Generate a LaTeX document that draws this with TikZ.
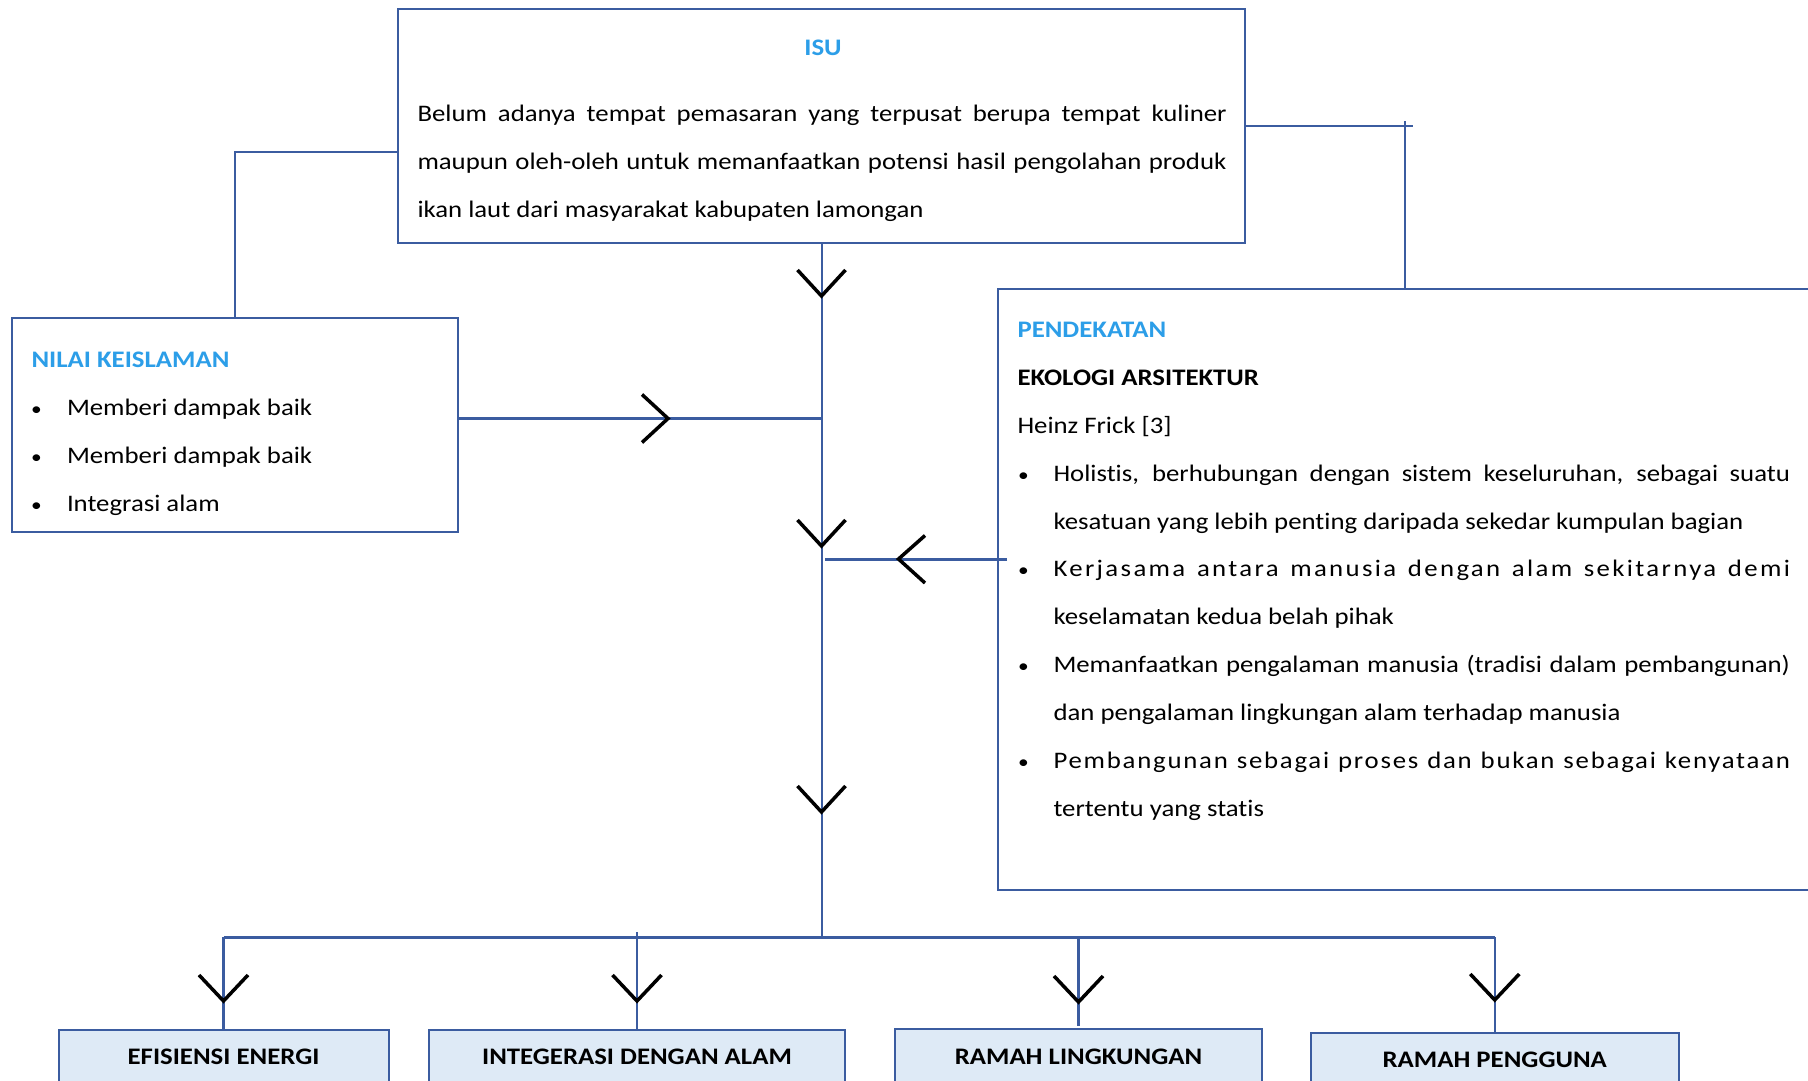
\documentclass[tikz,border=0pt]{standalone}
\usepackage{fontspec}
\setmainfont{Carlito}[FakeStretch=1.13,Ligatures=NoCommon]
\newfontfamily\spreadfont{Carlito}[FakeStretch=1.13,LetterSpace=10,Ligatures=NoCommon]
\newfontfamily\spreadfontb{Carlito}[FakeStretch=1.13,LetterSpace=7.5,Ligatures=NoCommon]
\usetikzlibrary{calc}
\definecolor{lineblue}{RGB}{59,92,160}
\definecolor{titleblue}{RGB}{44,158,232}
\definecolor{boxfill}{RGB}{222,234,246}
\newcommand{\fs}{\fontsize{23.7}{28}\selectfont}
\tikzset{
  every node/.style={inner sep=0pt, outer sep=0pt},
  boxshape/.style={draw=lineblue, line width=2pt, rectangle, anchor=north west},
  resbox/.style={boxshape, fill=boxfill, minimum height=90pt},
  txt/.style={anchor=base west, font=\fs},
  bul/.style={anchor=base west, font=\fontsize{19}{24}\selectfont},
  ttl/.style={anchor=base west, font=\fs\bfseries, text=titleblue},
  lbl/.style={anchor=base, font=\fs\bfseries},
  conn/.style={draw=lineblue, line width=2pt},
  connmid/.style={draw=lineblue, line width=2.5pt},
  connthick/.style={draw=lineblue, line width=3pt},
  chev/.style={draw=black, line width=3.5pt, line join=miter}
}
\begin{document}
\begin{tikzpicture}[x=1pt,y=-1pt]
\useasboundingbox (0,0) rectangle (1808,1081);
\clip (0,0) rectangle (1808,1081);
\fill[white] (0,0) rectangle (1808,1081);

% boxes
\node[boxshape, minimum width=847pt, minimum height=234pt] (isu) at (398,9) {};
\node[boxshape, minimum width=446.5pt, minimum height=213.5pt] (nilai) at (11.5,318) {};
\node[boxshape, minimum width=850pt, minimum height=601pt] (pend) at (998,288.5) {};
\node[resbox, minimum width=330pt] (b1) at (58.5,1030) {};
\node[resbox, minimum width=416pt] (b2) at (429,1030) {};
\node[resbox, minimum width=367pt] (b3) at (895,1029) {};
\node[resbox, minimum width=367.5pt] (b4) at (1311,1032.5) {};

% ISU text
\node[lbl, text=titleblue] (isuT) at (823,56) {ISU};
\node[txt] (isu1) at (417.5,121.5) {\makebox[809pt][s]{Belum adanya tempat pemasaran yang terpusat berupa tempat kuliner}};
\node[txt] (isu2) at (417.5,169.5) {\makebox[809pt][s]{maupun oleh-oleh untuk memanfaatkan potensi hasil pengolahan produk}};
\node[txt] (isu3) at (417.5,217.5) {ikan laut dari masyarakat kabupaten lamongan};

% NILAI text
\node[ttl] (nilT) at (31.5,367) {NILAI KEISLAMAN};
\node[bul] (nb1) at (31,415) {•};
\node[txt] (nt1) at (67,415) {Memberi dampak baik};
\node[bul] (nb2) at (31,463) {•};
\node[txt] (nt2) at (67,463) {Memberi dampak baik};
\node[bul] (nb3) at (31,511) {•};
\node[txt] (nt3) at (67,511) {Integrasi alam};

% PENDEKATAN text
\node[ttl] (penT) at (1017.5,337) {PENDEKATAN};
\node[txt, font=\fs\bfseries] (penS) at (1017.5,385) {EKOLOGI ARSITEKTUR};
\node[txt] (penA) at (1017.5,433) {Heinz Frick [3]};
\node[bul] (pb1) at (1018,481) {•};
\node[txt] (pt1a) at (1053.5,481) {\makebox[736.5pt][s]{Holistis, berhubungan dengan sistem keseluruhan, sebagai suatu}};
\node[txt] (pt1b) at (1053.5,529) {kesatuan yang lebih penting daripada sekedar kumpulan bagian};
\node[bul] (pb2) at (1018,576.5) {•};
\node[txt] (pt2a) at (1053.5,576.5) {\makebox[736.5pt][s]{\spreadfont Kerjasama antara manusia dengan alam sekitarnya demi}};
\node[txt] (pt2b) at (1053.5,624.5) {keselamatan kedua belah pihak};
\node[bul] (pb3) at (1018,672.5) {•};
\node[txt] (pt3a) at (1053.5,672.5) {\makebox[736.5pt][s]{Memanfaatkan pengalaman manusia (tradisi dalam pembangunan)}};
\node[txt] (pt3b) at (1053.5,720.5) {dan pengalaman lingkungan alam terhadap manusia};
\node[bul] (pb4) at (1018,768.5) {•};
\node[txt] (pt4a) at (1053.5,768.5) {\makebox[736.5pt][s]{\spreadfontb Pembangunan sebagai proses dan bukan sebagai kenyataan}};
\node[txt] (pt4b) at (1053.5,816.5) {tertentu yang statis};

% result labels
\node[lbl] (l1) at (b1.north |- 0,1064) {EFISIENSI ENERGI};
\node[lbl] (l2) at (b2.north |- 0,1064) {INTEGERASI DENGAN ALAM};
\node[lbl] (l3) at (b3.north |- 0,1064) {RAMAH LINGKUNGAN};
\node[lbl] (l4) at (b4.north |- 0,1067) {RAMAH PENGGUNA};

% connectors
\path (isu.north west) ++(0,143) coordinate (isuL);
\draw[conn] (isuL) -| (nilai.north);
\draw[conn] (isu.east) -- ++(167.5,0) coordinate (isuRend);
\coordinate (rTop) at (1405,121);
\draw[conn] (rTop) -- (rTop |- pend.north);

\coordinate (hub) at (821.5,937);
\draw[conn] (isu.south) -- (hub);

\coordinate (jN) at (823,418.5);
\draw[connthick] (nilai.east |- jN) -- (jN);
\coordinate (jP) at (825,559);
\draw[connthick] ($(pend.west |- jP)+(9,0)$) -- (jP);

\draw[connthick] (b1.north |- hub) -- (b4.north |- hub);
\draw[connmid] (b1.north |- hub) -- (b1.north);
\draw[connmid] ($(b2.north |- hub)+(0,-5)$) -- (b2.north);
\draw[connmid] (b3.north |- hub) -- ($(b3.north)+(0,-3)$);
\draw[connmid] (b4.north |- hub) -- (b4.north);

% chevrons
\coordinate (c1) at (821.5,296);
\coordinate (c2) at (821.5,546);
\coordinate (c3) at (821.5,812);
\foreach \c in {c1,c2,c3} {
  \draw[chev] (\c) ++(-24,-26) -- (\c) -- ++(24,-26);
}
\coordinate (d1) at (b1.north |- 0,1001);
\coordinate (d2) at (b2.north |- 0,1001);
\coordinate (d3) at (b3.north |- 0,1002);
\coordinate (d4) at (b4.north |- 0,1000);
\foreach \c in {d1,d2,d3,d4} {
  \draw[chev] (\c) ++(-24.5,-26) -- (\c) -- ++(24.5,-26);
}
\coordinate (eN) at (668,418.5);
\draw[chev] (eN) ++(-26,-24) -- (eN) -- ++(-26,24);
\coordinate (eP) at (898.5,559);
\draw[chev] (eP) ++(26.5,-23.5) -- (eP) -- ++(26.5,24);
\end{tikzpicture}
\end{document}
